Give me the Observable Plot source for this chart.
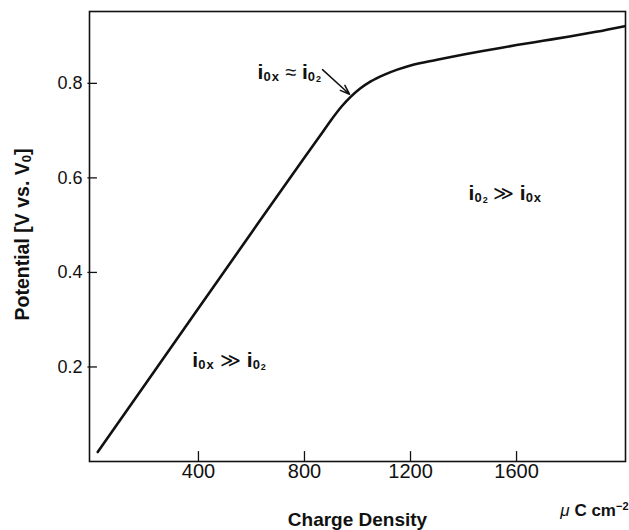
<!DOCTYPE html>
<html><head><meta charset="utf-8">
<script src="https://cdn.jsdelivr.net/npm/d3@7"></script>
<script src="https://cdn.jsdelivr.net/npm/@observablehq/plot@0.6"></script>
<style>body{margin:0;background:#fff} #chart svg{display:block}</style>
</head><body><div id="chart"></div>
<script>
// ---- data ----
const chargeDensity = [20, 200, 400, 600, 800, 860, 900, 940, 975, 1010, 1050, 1100, 1150, 1200, 1300, 1400, 1500, 1600, 1700, 1800, 1900, 2008];
const potential     = [0.020, 0.164, 0.324, 0.484, 0.643, 0.690, 0.722, 0.751, 0.772, 0.789, 0.804, 0.818, 0.829, 0.838, 0.850, 0.861, 0.871, 0.881, 0.890, 0.899, 0.909, 0.921];
const xTicks = [400, 800, 1200, 1600];
const xTickLabels = ["400", "800", "1200", "1600"];
const yTicks = [0.2, 0.4, 0.6, 0.8];
const yTickLabels = ["0.2", "0.4", "0.6", "0.8"];
const arrowFrom = [868, 0.829];
const arrowTo = [970, 0.777];
const annotationX = [623, 1419, 377];
const annotationY = [0.810, 0.553, 0.199];
const annotationParts = [
  [["i","base"],["0x","sub"],[" ≈ ","rel"],["i","base"],["0","sub"],["2","subsub"]],
  [["i","base"],["0","sub"],["2","subsub"],[" ≫ ","rel"],["i","base"],["0x","sub"]],
  [["i","base"],["0x","sub"],[" ≫ ","rel"],["i","base"],["0","sub"],["2","subsub"]]
];
const yTitleParts = [["Potential [V vs. V","title"],["0","titlesub"],["]","title"]];
const unitParts = [["μ","mu"],[" C cm","unit"],["−2","unitsup"]];
const xTitle = "Charge Density";

// ---- build ----
const curve = chargeDensity.map((x, i) => ({x, y: potential[i]}));
const plain = parts => parts.map(p => p[0]).join("");
const annotations = annotationParts.map((parts, i) => ({x: annotationX[i], y: annotationY[i], text: plain(parts), parts}));

const partStyle = {
  base:    {size: 21, weight: "bold", shift: 0},
  rel:     {size: 20, weight: "normal", shift: 0},
  sub:     {size: 13, weight: "bold", shift: 2, spacing: 1},
  subsub:  {size: 9,  weight: "bold", shift: 3},
  title:   {size: 19.5, weight: "bold", shift: 0},
  titlesub:{size: 13, weight: "bold", shift: 2},
  mu:      {size: 17, weight: "normal", style: "italic", shift: 0},
  unit:    {size: 17, weight: "bold", shift: 0},
  unitsup: {size: 11, weight: "bold", shift: -6}
};

const narrow = "'Liberation Sans Narrow', 'Liberation Sans', Arial, sans-serif";
const ink = "#111";

const chart = Plot.plot({
  width: 629, height: 530,
  marginLeft: 89, marginRight: 4, marginTop: 11, marginBottom: 69,
  x: {domain: [-11, 2011]},
  y: {domain: [0, 0.952]},
  style: {fontFamily: "'Liberation Sans', Arial, sans-serif", color: ink, background: "#fff"},
  marks: [
    Plot.frame({stroke: ink, strokeWidth: 1.6}),
    Plot.ruleX(xTicks, {x: d => d, y1: 0, y2: 0.021, stroke: ink, strokeWidth: 1.3}),
    Plot.ruleY(yTicks, {y: d => d, x1: -17, x2: 19, stroke: ink, strokeWidth: 1.3}),
    Plot.axisX({ticks: xTicks, tickFormat: d => xTickLabels[xTicks.indexOf(d)], tickSize: 0, tickPadding: 2, fontSize: 20, fontFamily: narrow, label: null}),
    Plot.axisY({ticks: yTicks, tickFormat: d => yTickLabels[yTicks.indexOf(d)], tickSize: 0, tickPadding: 7, fontSize: 18, fontFamily: narrow, label: null}),
    Plot.line(curve, {x: "x", y: "y", stroke: ink, strokeWidth: 2.6, curve: "monotone-x"}),
    Plot.arrow([{x1: arrowFrom[0], y1: arrowFrom[1], x2: arrowTo[0], y2: arrowTo[1]}], {x1: "x1", y1: "y1", x2: "x2", y2: "y2", stroke: ink, strokeWidth: 1.5, headLength: 10, headAngle: 40}),
    Plot.text(annotations, {x: "x", y: "y", text: "text", textAnchor: "start", lineAnchor: "bottom", fontSize: 21, fontWeight: "bold", fill: ink}),
    Plot.text([plain(yTitleParts)], {text: d => d, frameAnchor: "left", rotate: -90, dx: -61, dy: -2, lineAnchor: "bottom", textAnchor: "middle", fontSize: 19.5, fontWeight: "bold", fill: ink}),
    Plot.text([plain(unitParts)], {text: d => d, frameAnchor: "bottom-right", dx: 3, dy: 54, lineAnchor: "bottom", textAnchor: "end", fontSize: 17, fontWeight: "bold", fill: ink}),
    Plot.text([xTitle], {text: d => d, frameAnchor: "bottom", dy: 64, lineAnchor: "bottom", textAnchor: "middle", fontSize: 19, fontWeight: "bold", fill: ink})
  ]
});

// rich text: subscripts / superscripts as tspans
function richText(svg, parts) {
  const target = plain(parts);
  svg.querySelectorAll("text").forEach(t => {
    if (t.textContent !== target) return;
    t.textContent = "";
    let cur = 0;
    for (const [s, kind] of parts) {
      const st = partStyle[kind];
      const ts = document.createElementNS("http://www.w3.org/2000/svg", "tspan");
      ts.textContent = s;
      ts.setAttribute("dy", st.shift - cur);
      cur = st.shift;
      ts.setAttribute("font-size", st.size);
      ts.setAttribute("font-weight", st.weight);
      if (st.style) ts.setAttribute("font-style", st.style);
      if (st.spacing) ts.setAttribute("letter-spacing", st.spacing);
      t.appendChild(ts);
    }
  });
}
annotationParts.forEach(p => richText(chart, p));
richText(chart, yTitleParts);
richText(chart, unitParts);

document.getElementById("chart").appendChild(chart);
</script>
</body></html>
